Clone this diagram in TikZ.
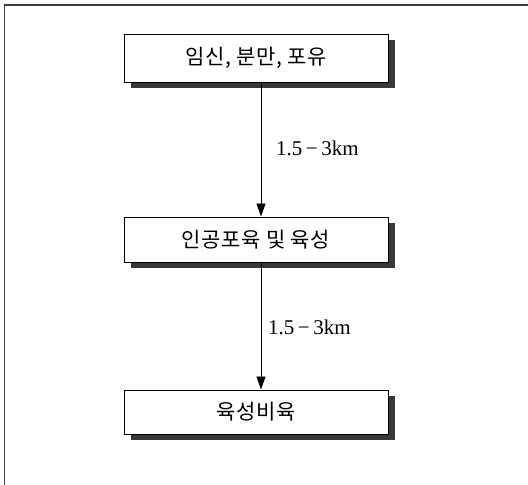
\documentclass[tikz,border=0pt]{standalone}
\usepackage{fontspec}
\newfontfamily\kr[LetterSpace=3]{Noto Sans CJK KR}
\newfontfamily\lab{Liberation Serif}
\usetikzlibrary{arrows.meta,shadows}
\begin{document}
\begin{tikzpicture}[x=1pt,y=-1pt,
  box/.style={draw=black, line width=1pt, fill=white, minimum width=264pt,
    inner sep=0pt, font=\kr\fontsize{21}{24}\selectfont,
    drop shadow={opacity=1, fill=black!78, shadow xshift=7pt, shadow yshift=-6pt}},
  lbl/.style={font=\lab\fontsize{21}{24}\selectfont, anchor=west, inner sep=0pt},
  conn/.style={line width=0.9pt, -{Triangle[width=9pt,length=13pt]}}]
\useasboundingbox (0,0) rectangle (528,485);
\fill[white] (0,0) rectangle (528,485);
\draw[black!75, line width=1.6pt] (4.5,485) -- (4.5,5) -- (528,5);
\node[box, minimum height=48pt] (b1) at (256,58) {임신, 분만, 포유};
\node[box, minimum height=45pt] (b2) at (256,239.5) {인공포육 및 육성};
\node[box, minimum height=44pt] (b3) at (256,412) {육성비육};
\coordinate (ax) at (261,0);
\draw[conn] (b1.south -| ax) -- (b2.north -| ax);
\draw[conn] (b2.south -| ax) -- (b3.north -| ax);
\node[lbl] (l1) at (276,148) {1.5\,−\,3km};
\node[lbl] (l2) at (268,327) {1.5\,−\,3km};
\end{tikzpicture}
\end{document}
